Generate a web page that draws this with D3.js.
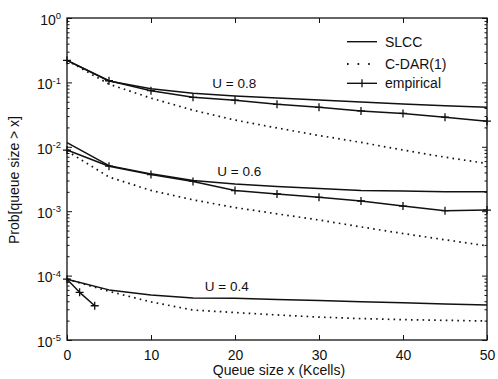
<!DOCTYPE html>
<html>
<head>
<meta charset="utf-8">
<script src="https://cdn.jsdelivr.net/npm/d3@7"></script>
<style>
  html, body { margin: 0; padding: 0; background: #fff; }
  svg { display: block; }
  text { font-family: "Liberation Sans", Arial, Helvetica, sans-serif; fill: #111; }
</style>
</head>
<body>
<svg id="chart" width="498" height="379"></svg>
<script>
// ---- data ----
const queueX = [0, 5, 10, 15, 20, 25, 30, 35, 40, 45, 50];

const slcc08 = [0.22, 0.105, 0.080, 0.068, 0.0615, 0.0573, 0.0533, 0.0496, 0.0462, 0.0435, 0.041];
const cdar08 = [0.22, 0.094, 0.057, 0.037, 0.026, 0.0196, 0.015, 0.0117, 0.0089, 0.0069, 0.0055];
const emp08  = [0.22, 0.106, 0.0743, 0.0586, 0.053, 0.0457, 0.041, 0.036, 0.033, 0.0288, 0.025];

const slcc06 = [0.0116, 0.0051, 0.0038, 0.0030, 0.00264, 0.00242, 0.00225, 0.0021, 0.00205, 0.0020, 0.0020];
const cdar06 = [0.0086, 0.0034, 0.0021, 0.0015, 0.00114, 0.00091, 0.00073, 0.00057, 0.00045, 0.00036, 0.00029];
const emp06  = [0.0089, 0.0050, 0.0037, 0.0029, 0.00209, 0.00185, 0.00164, 0.00144, 0.0012, 0.00102, 0.00104];

const slcc04 = [8.8e-5, 6.0e-5, 5.0e-5, 4.5e-5, 4.45e-5, 4.27e-5, 4.10e-5, 3.94e-5, 3.79e-5, 3.63e-5, 3.49e-5];
const cdar04 = [8.8e-5, 5.7e-5, 3.9e-5, 2.92e-5, 2.67e-5, 2.45e-5, 2.27e-5, 2.15e-5, 2.07e-5, 2.02e-5, 1.97e-5];
const empX04 = [0, 1.5, 3.3];
const emp04  = [8.8e-5, 5.5e-5, 3.4e-5];

const xTicks = [0, 10, 20, 30, 40, 50];
const yExps  = [0, -1, -2, -3, -4, -5];

const legendLabels = ["SLCC", "C-DAR(1)", "empirical"];
const curveLabels = [
  { text: "U = 0.8", x: 17.3, v: 0.0818 },
  { text: "U = 0.6", x: 17.9, v: 0.00346 },
  { text: "U = 0.4", x: 16.4, v: 0.0000577 }
];

// ---- layout ----
const svg = d3.select("#chart");
const L = 67, R = 487, T = 18, B = 340;
const x = d3.scaleLinear().domain([0, 50]).range([L, R]);
const y = d3.scaleLog().domain([1e-5, 1]).range([B, T]);

const ink = "#111";

// frame
svg.append("rect").attr("x", L).attr("y", T).attr("width", R - L).attr("height", B - T)
  .attr("fill", "none").attr("stroke", ink).attr("stroke-width", 1.3);

// minor log ticks
const minors = [];
for (let e = -5; e < 0; e++) for (let m = 2; m <= 9; m++) minors.push(m * Math.pow(10, e));

function styleAxis(g) {
  g.select(".domain").remove();
  g.selectAll(".tick line").attr("stroke", ink).attr("stroke-width", 1);
}

svg.append("g").attr("transform", `translate(${L},0)`)
  .call(d3.axisLeft(y).tickValues(minors).tickSizeInner(-2.5).tickSizeOuter(0).tickFormat(""))
  .call(styleAxis);
svg.append("g").attr("transform", `translate(${R},0)`)
  .call(d3.axisRight(y).tickValues(minors).tickSizeInner(-2.5).tickSizeOuter(0).tickFormat(""))
  .call(styleAxis);

// major y ticks
const yMajor = yExps.map(e => Math.pow(10, e));
const gy = svg.append("g").attr("transform", `translate(${L},0)`)
  .call(d3.axisLeft(y).tickValues(yMajor).tickSizeInner(-5).tickSizeOuter(0))
  .call(styleAxis);
gy.selectAll(".tick text").each(function(d) {
  const t = d3.select(this);
  const e = Math.round(Math.log10(d));
  t.text(null).attr("font-size", 14).attr("fill", ink).attr("dy", "0.45em").attr("x", -6);
  t.append("tspan").text("10");
  t.append("tspan").attr("dy", "-0.6em").attr("font-size", 9.5).text(String(e));
});
svg.append("g").attr("transform", `translate(${R},0)`)
  .call(d3.axisRight(y).tickValues(yMajor).tickSizeInner(-5).tickSizeOuter(0).tickFormat(""))
  .call(styleAxis);

// x ticks
const gx = svg.append("g").attr("transform", `translate(0,${B})`)
  .call(d3.axisBottom(x).tickValues(xTicks).tickSizeInner(-5).tickSizeOuter(0).tickPadding(10))
  .call(styleAxis);
gx.selectAll(".tick text").attr("font-size", 14).attr("fill", ink).attr("font-family", "Liberation Sans, Arial, sans-serif");
svg.append("g").attr("transform", `translate(0,${T})`)
  .call(d3.axisTop(x).tickValues(xTicks).tickSizeInner(-5).tickSizeOuter(0).tickFormat(""))
  .call(styleAxis);

// axis titles
svg.append("text").attr("x", 279).attr("y", 375).attr("text-anchor", "middle")
  .attr("font-size", 14).text("Queue size x (Kcells)");
svg.append("text").attr("transform", "translate(19,180) rotate(-90)").attr("text-anchor", "middle")
  .attr("font-size", 14).text("Prob[queue size > x]");

// ---- curves ----
const line = d3.line().x(d => x(d[0])).y(d => y(d[1]));
const plot = svg.append("g");

function drawSolid(xs, vs) {
  plot.append("path").datum(xs.map((xv, i) => [xv, vs[i]]))
    .attr("d", line).attr("fill", "none").attr("stroke", ink).attr("stroke-width", 1.5)
    .attr("stroke-linejoin", "round");
}
function drawDotted(xs, vs) {
  plot.append("path").datum(xs.map((xv, i) => [xv, vs[i]]))
    .attr("d", line).attr("fill", "none").attr("stroke", ink).attr("stroke-width", 1.7)
    .attr("stroke-dasharray", "1.6,4.2");
}
function drawCrosses(xs, vs) {
  const s = 4;
  plot.append("g").selectAll("path").data(xs.map((xv, i) => [xv, vs[i]])).join("path")
    .attr("d", d => `M${x(d[0]) - s},${y(d[1])}H${x(d[0]) + s}M${x(d[0])},${y(d[1]) - s}V${y(d[1]) + s}`)
    .attr("stroke", ink).attr("stroke-width", 1.3).attr("fill", "none");
}

drawSolid(queueX, slcc08); drawDotted(queueX, cdar08); drawSolid(queueX, emp08); drawCrosses(queueX, emp08);
drawSolid(queueX, slcc06); drawDotted(queueX, cdar06); drawSolid(queueX, emp06); drawCrosses(queueX, emp06);
drawSolid(queueX, slcc04); drawDotted(queueX, cdar04); drawSolid(empX04, emp04); drawCrosses(empX04, emp04);

// curve labels
curveLabels.forEach(c => {
  svg.append("text").attr("x", x(c.x)).attr("y", y(c.v)).attr("font-size", 13.5).text(c.text);
});

// ---- legend ----
const lg = svg.append("g");
const rows = [41.7, 64, 83.3];
legendLabels.forEach((lab, i) => {
  const yy = rows[i];
  const seg = lg.append("line").attr("x1", 347).attr("x2", 377).attr("y1", yy).attr("y2", yy)
    .attr("stroke", ink).attr("stroke-width", 1.4);
  if (i === 1) seg.attr("stroke-dasharray", "1.6,9").attr("stroke-width", 1.8);
  if (i === 2) {
    lg.append("path").attr("d", `M362,${yy - 4}V${yy + 4}`).attr("stroke", ink).attr("stroke-width", 1.3);
  }
  lg.append("text").attr("x", 385).attr("y", yy + 5).attr("font-size", 14).text(lab);
});
</script>
</body>
</html>
